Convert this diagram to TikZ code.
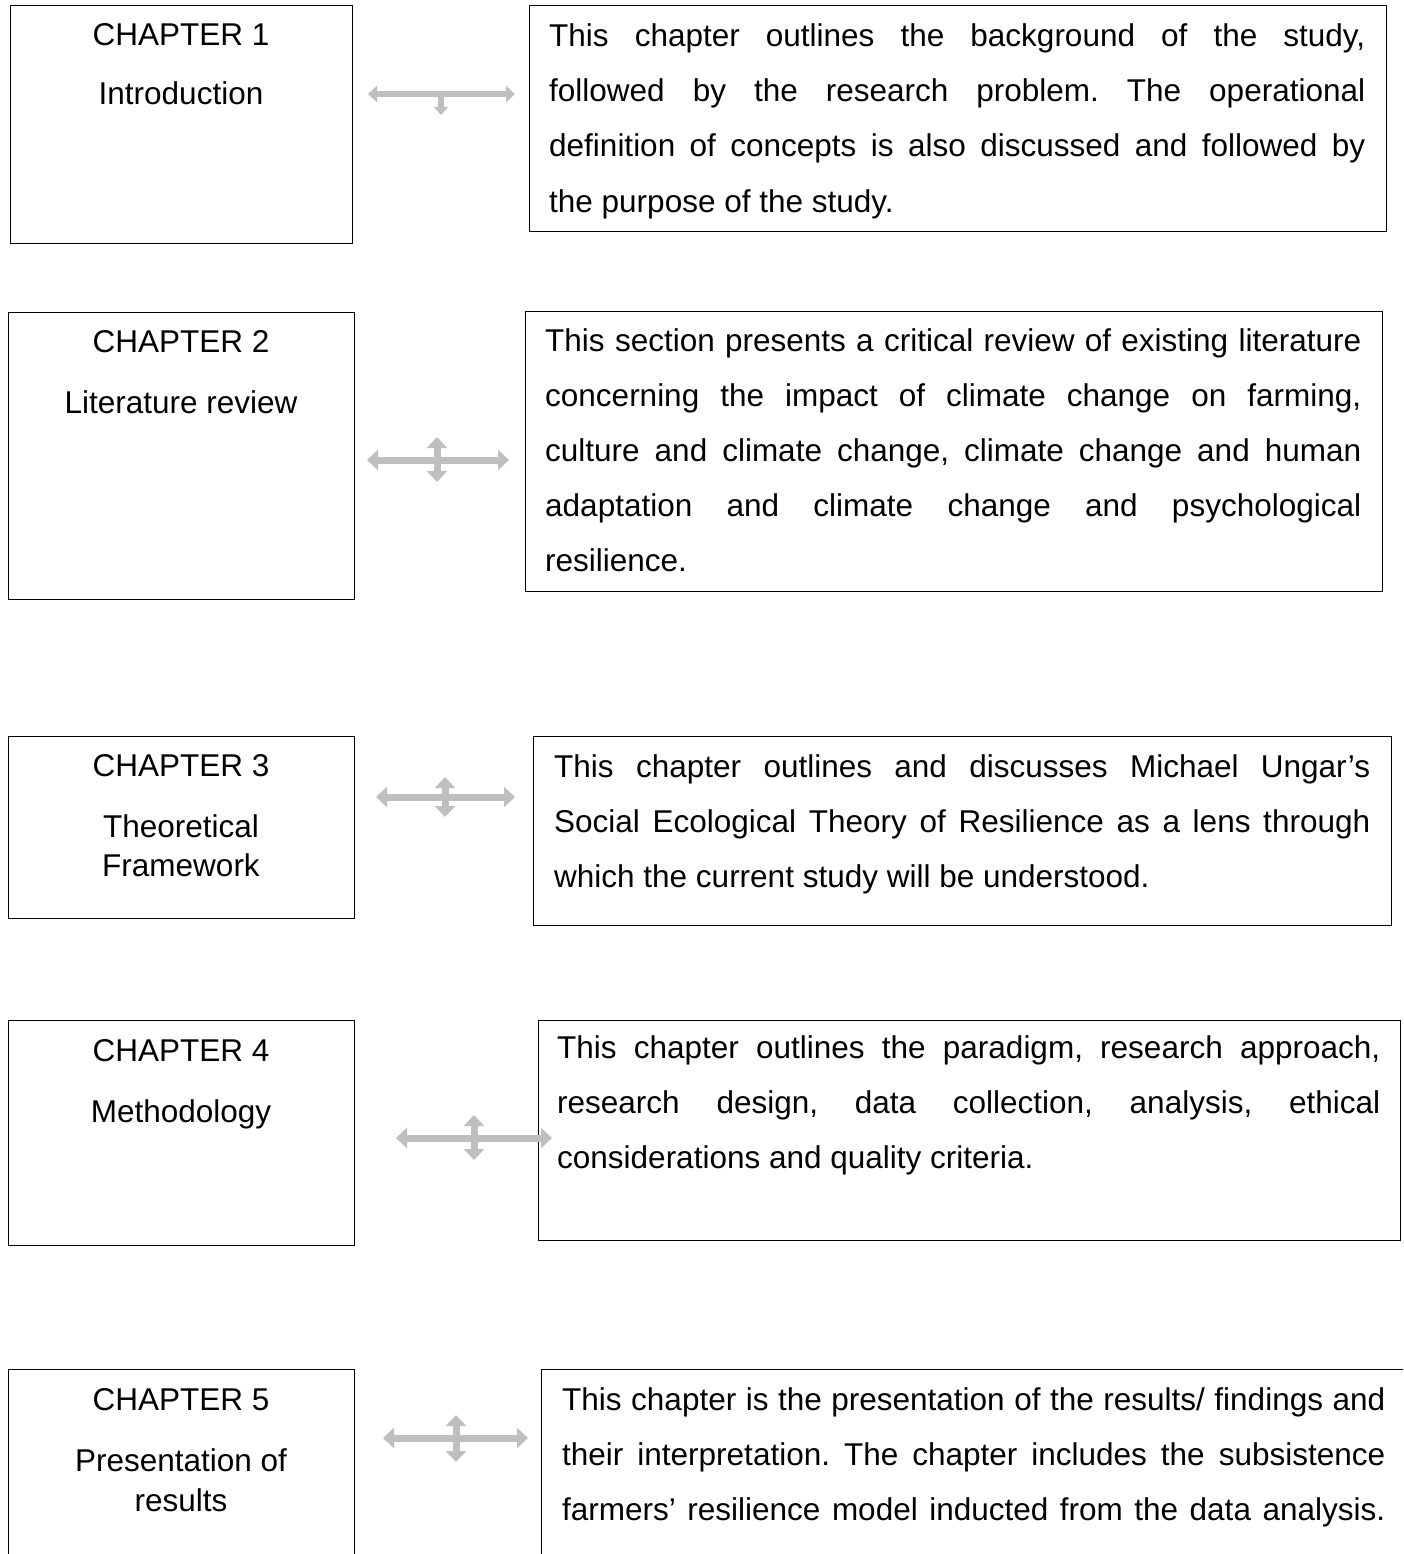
\documentclass[tikz,border=0pt]{standalone}
\usepackage{fontspec}
\setmainfont{Liberation Sans}
\usetikzlibrary{arrows.meta}
\definecolor{arrowgray}{HTML}{BFBFBF}
\frenchspacing
\newcommand{\jline}[5]{\node[txt] (#1) at (#2,#3) {\makebox[#4pt][s]{#5}};}
\newcommand{\lline}[4]{\node[txt] (#1) at (#2,#3) {#4};}
\begin{document}
\begin{tikzpicture}[x=1pt,y=-1pt,
  box/.style={draw=black,line width=1.3pt,anchor=north west,inner sep=0pt},
  txt/.style={anchor=base west,inner sep=0pt,font=\fontsize{31.5}{39}\selectfont\frenchspacing},
  ttl/.style={anchor=base,inner sep=0pt,font=\fontsize{31.5}{39}\selectfont},
  arrh/.style={draw=arrowgray,line width=7pt,{Triangle[width=20pt,length=11pt]}-{Triangle[width=20pt,length=11pt]}},
  arrhs/.style={draw=arrowgray,line width=5.5pt,{Triangle[width=16pt,length=9pt]}-{Triangle[width=16pt,length=9pt]}},
  arrd/.style={draw=arrowgray,line width=5.5pt,-{Triangle[width=14pt,length=8pt]}},
]
\useasboundingbox (0,0) rectangle (1403,1554);
\fill[white] (0,0) rectangle (1403,1554);
\clip (0,0) rectangle (1403,1554);

% ---------- boxes ----------
\node[box,minimum width=342pt,minimum height=238pt] (L1) at (10,5) {};
\node[box,minimum width=857pt,minimum height=226pt] (R1) at (529,5) {};
\node[box,minimum width=346pt,minimum height=287pt] (L2) at (8,312) {};
\node[box,minimum width=857pt,minimum height=280pt] (R2) at (525,311) {};
\node[box,minimum width=346pt,minimum height=182pt] (L3) at (8,736) {};
\node[box,minimum width=858pt,minimum height=189pt] (R3) at (533,736) {};
\node[box,minimum width=346pt,minimum height=225pt] (L4) at (8,1020) {};
\node[box,minimum width=862pt,minimum height=220pt] (R4) at (538,1020) {};
\node[box,minimum width=346pt,minimum height=240pt] (L5) at (8,1369) {};
\node[box,minimum width=900pt,minimum height=240pt] (R5) at (541,1369) {};

% ---------- left titles ----------
\node[ttl] (t1a) at (181,46) {CHAPTER 1};
\node[ttl] (t1b) at (181,105) {Introduction};
\node[ttl] (t2a) at (181,352) {CHAPTER 2};
\node[ttl] (t2b) at (181,413) {Literature review};
\node[ttl] (t3a) at (181,776) {CHAPTER 3};
\node[ttl] (t3b) at (181,837) {Theoretical};
\node[ttl] (t3c) at (181,876) {Framework};
\node[ttl] (t4a) at (181,1061) {CHAPTER 4};
\node[ttl] (t4b) at (181,1122) {Methodology};
\node[ttl] (t5a) at (181,1410) {CHAPTER 5};
\node[ttl] (t5b) at (181,1471) {Presentation of};
\node[ttl] (t5c) at (181,1511) {results};

% ---------- right texts ----------
\jline{r1a}{549}{47}{816}{This chapter outlines the background of the study,}
\jline{r1b}{549}{102}{816}{followed by the research problem. The operational}
\jline{r1c}{549}{157}{816}{definition of concepts is also discussed and followed by}
\lline{r1d}{549}{213}{the purpose of the study.}

\jline{r2a}{545}{351}{816}{This section presents a critical review of existing literature}
\jline{r2b}{545}{406}{816}{concerning the impact of climate change on farming,}
\jline{r2c}{545}{461}{816}{culture and climate change, climate change and human}
\jline{r2d}{545}{516}{816}{adaptation and climate change and psychological}
\lline{r2e}{545}{571}{resilience.}

\jline{r3a}{554}{777}{816}{This chapter outlines and discusses Michael Ungar’s}
\jline{r3b}{554}{832}{816}{Social Ecological Theory of Resilience as a lens through}
\lline{r3c}{554}{887}{which the current study will be understood.}

\jline{r4a}{557}{1058}{823}{This chapter outlines the paradigm, research approach,}
\jline{r4b}{557}{1113}{823}{research design, data collection, analysis, ethical}
\lline{r4c}{557}{1168}{considerations and quality criteria.}

\jline{r5a}{562}{1410}{823}{This chapter is the presentation of the results/ findings and}
\jline{r5b}{562}{1465}{823}{their interpretation. The chapter includes the subsistence}
\jline{r5c}{562}{1520}{823}{farmers’ resilience model inducted from the data analysis.}

% ---------- arrow end points ----------
\coordinate (a1l) at (368,94);  \coordinate (a1r) at (515,94);
\coordinate (a1c) at (441,94);  \coordinate (a1d) at (441,115);
\coordinate (a2l) at (367,460); \coordinate (a2r) at (509,460);
\coordinate (a2u) at (437,437); \coordinate (a2d) at (437,482);
\coordinate (a3l) at (376,797); \coordinate (a3r) at (515,797);
\coordinate (a3u) at (445,777); \coordinate (a3d) at (445,817);
\coordinate (a4l) at (396,1138); \coordinate (a4r) at (552,1138);
\coordinate (a4u) at (474,1115); \coordinate (a4d) at (474,1160);
\coordinate (a5l) at (383,1438); \coordinate (a5r) at (528,1438);
\coordinate (a5u) at (456,1415); \coordinate (a5d) at (456,1462);

% arrows
\draw[arrhs] (a1l) -- (a1r);
\draw[arrd] (a1c) -- (a1d);
\foreach \i in {2,3,4,5}{
  \draw[arrh] (a\i l) -- (a\i r);
  \draw[arrh] (a\i u) -- (a\i d);
}
\end{tikzpicture}
\end{document}
